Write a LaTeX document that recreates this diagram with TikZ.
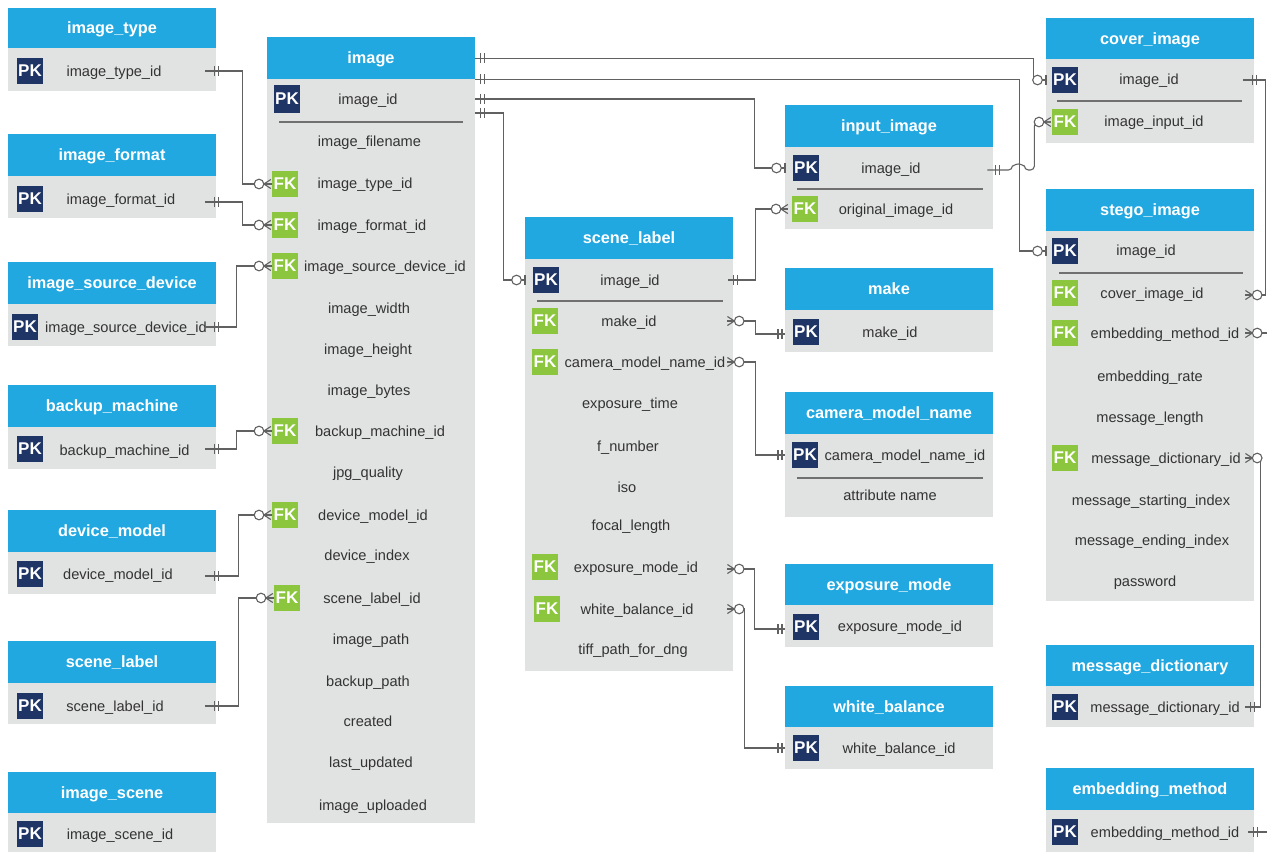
\documentclass[tikz,border=0pt]{standalone}
\usepackage{fontspec}
\setmainfont{Liberation Sans}

\definecolor{hdrblue}{HTML}{22A8E0}
\definecolor{bodygray}{HTML}{E1E2E2}
\definecolor{pknavy}{HTML}{1F3566}
\definecolor{fkgreen}{HTML}{8CC63F}
\definecolor{txt}{HTML}{333333}
\definecolor{wire}{HTML}{616161}
\definecolor{sepgray}{HTML}{707070}

\tikzset{
  hdrbox/.style={fill=hdrblue, draw=none, anchor=north west, inner sep=0pt},
  bdybox/.style={fill=bodygray, draw=none, anchor=north west, inner sep=0pt},
  ttl/.style={text=white, font=\bfseries\fontsize{16.3}{18}\selectfont, inner sep=0pt, anchor=mid, yshift=-3pt},
  fld/.style={text=txt, font=\fontsize{14.6}{16}\selectfont, inner sep=0pt, anchor=mid, yshift=-3pt},
  pk/.style={fill=pknavy, text=white, font=\bfseries\fontsize{17}{17}\selectfont,
             minimum width=26pt, minimum height=26pt, inner sep=0pt},
  fk/.style={pk, fill=fkgreen},
  sep/.style={draw=sepgray, line width=1.1pt},
  conn/.style={draw=wire, line width=1.1pt},
  % two bars: exactly one
  mand/.pic={\draw[conn] (0,-5) -- (0,5) (4,-5) -- (4,5);},
  % bar and ring: zero or one, line arriving from the left
  zone/.pic={\draw[conn] (0,-5) -- (0,5); \draw[conn, fill=white] (-8.5,0) circle[radius=4.8];},
  % crow's foot and ring: zero or many, line arriving from the left
  zmanyL/.pic={\draw[conn] (0,-4.5) -- (-7,0) -- (0,4.5) (0,0) -- (-7,0);
               \draw[conn, fill=white] (-11.8,0) circle[radius=4.8];},
  % crow's foot and ring: zero or many, line leaving to the right
  zmanyR/.pic={\draw[conn] (0,-4.5) -- (7,0) -- (0,4.5) (0,0) -- (7,0);
               \draw[conn, fill=white] (11.8,0) circle[radius=4.8];},
}

% table: name, left x, top y, header bottom y, bottom y, title
\newcommand\ertable[6]{%
  \node[hdrbox, minimum width=208pt, minimum height={#4-#3}] (#1-h) at (#2,#3) {};
  \node[bdybox, minimum width=208pt, minimum height={#5-#4}] (#1-b) at (#2,#4) {};
  \node[ttl] (#1-t) at ({#2+104},{(#3+#4)/2}) {#6};}

\begin{document}
\begin{tikzpicture}[x=1pt,y=-1pt]
\useasboundingbox[fill=white] (0,0) rectangle (1267,852);

% ---------------- left column ----------------
\ertable{itype}{8}{8}{48}{91}{image\_type}
\node[pk] (k-itype) at (30,71) {PK};
\node[fld] (f-itype) at (114,71) {image\_type\_id};

\ertable{iformat}{8}{134}{176}{218}{image\_format}
\node[pk] (k-iformat) at (30,199) {PK};
\node[fld] (f-iformat) at (121,199) {image\_format\_id};

\ertable{isrc}{8}{262}{304}{346}{image\_source\_device}
\node[pk] (k-isrc) at (25,327) {PK};
\node[fld] (f-isrc) at (126,327) {image\_source\_device\_id};

\ertable{backup}{8}{385}{427}{469}{backup\_machine}
\node[pk] (k-backup) at (30,449) {PK};
\node[fld] (f-backup) at (124.5,450) {backup\_machine\_id};

\ertable{dmodel}{8}{510}{552}{594}{device\_model}
\node[pk] (k-dmodel) at (30,574) {PK};
\node[fld] (f-dmodel) at (118,574) {device\_model\_id};

\ertable{slabelL}{8}{641}{683}{724}{scene\_label}
\node[pk] (k-slabelL) at (30,706) {PK};
\node[fld] (f-slabelL) at (115,706) {scene\_label\_id};

\ertable{iscene}{8}{772}{813}{852}{image\_scene}
\node[pk] (k-iscene) at (30,834) {PK};
\node[fld] (f-iscene) at (120,834) {image\_scene\_id};

% ---------------- image ----------------
\ertable{image}{267}{37}{79}{823}{image}
\node[pk, minimum height=28pt] (k-image) at (287,99) {PK};
\node[fld] (f-image-id) at (368,99) {image\_id};
\draw[sep] (279,122) -- (463,122);
\node[fld] (f-image-fn) at (369.5,141) {image\_filename};
\node[fk] (fk-itype) at (285,184) {FK};
\node[fld] (f-image-type) at (365,183) {image\_type\_id};
\node[fk] (fk-iformat) at (285,225) {FK};
\node[fld] (f-image-format) at (372,225) {image\_format\_id};
\node[fk] (fk-isrc) at (285,266) {FK};
\node[fld] (f-image-src) at (385,266) {image\_source\_device\_id};
\node[fld] (f-image-w) at (369,308) {image\_width};
\node[fld] (f-image-h) at (368,349) {image\_height};
\node[fld] (f-image-bytes) at (369,390) {image\_bytes};
\node[fk] (fk-backup) at (285,431) {FK};
\node[fld] (f-image-backup) at (380,431) {backup\_machine\_id};
\node[fld] (f-image-jpg) at (368,472) {jpg\_quality};
\node[fk] (fk-dmodel) at (285,515) {FK};
\node[fld] (f-image-dmodel) at (373,515) {device\_model\_id};
\node[fld] (f-image-dindex) at (367,555) {device\_index};
\node[fk] (fk-slabel) at (287,598) {FK};
\node[fld] (f-image-slabel) at (372,598) {scene\_label\_id};
\node[fld] (f-image-path) at (371,639) {image\_path};
\node[fld] (f-image-bpath) at (368,681) {backup\_path};
\node[fld] (f-image-created) at (368,721) {created};
\node[fld] (f-image-upd) at (371,762) {last\_updated};
\node[fld] (f-image-upl) at (373,805) {image\_uploaded};

% ---------------- scene_label ----------------
\ertable{scene}{525}{217}{259}{671}{scene\_label}
\node[pk] (k-scene) at (546,280) {PK};
\node[fld] (f-scene-id) at (630,280) {image\_id};
\draw[sep] (537,301) -- (723,301);
\node[fk] (fk-make) at (545,321) {FK};
\node[fld] (f-scene-make) at (629,321) {make\_id};
\node[fk] (fk-cam) at (545,362) {FK};
\node[fld] (f-scene-cam) at (645,362) {camera\_model\_name\_id};
\node[fld] (f-scene-et) at (630,403) {exposure\_time};
\node[fld] (f-scene-fn) at (628,446) {f\_number};
\node[fld] (f-scene-iso) at (627,487) {iso};
\node[fld] (f-scene-fl) at (631,525) {focal\_length};
\node[fk] (fk-expo) at (545,567) {FK};
\node[fld] (f-scene-expo) at (636,567) {exposure\_mode\_id};
\node[fk] (fk-wb) at (547,609) {FK};
\node[fld] (f-scene-wb) at (637,609) {white\_balance\_id};
\node[fld] (f-scene-tiff) at (633,649) {tiff\_path\_for\_dng};

% ---------------- lookup tables ----------------
\ertable{input}{785}{105}{147}{229}{input\_image}
\node[pk] (k-input) at (806,168) {PK};
\node[fld] (f-input-id) at (891,168) {image\_id};
\draw[sep] (797,189) -- (983,189);
\node[fk] (fk-orig) at (805,209) {FK};
\node[fld] (f-input-orig) at (896,209) {original\_image\_id};

\ertable{make}{785}{268}{310}{352}{make}
\node[pk] (k-make) at (806,332) {PK};
\node[fld] (f-make) at (890,332) {make\_id};

\ertable{cam}{785}{392}{434}{517}{camera\_model\_name}
\node[pk] (k-cam) at (805,455) {PK};
\node[fld] (f-cam) at (905,455) {camera\_model\_name\_id};
\draw[sep] (797,478) -- (983,478);
\node[fld] (f-cam-attr) at (890,495) {attribute name};

\ertable{expo}{785}{564}{605}{647}{exposure\_mode}
\node[pk] (k-expo) at (806,627) {PK};
\node[fld] (f-expo) at (900,626) {exposure\_mode\_id};

\ertable{wb}{785}{686}{727}{769}{white\_balance}
\node[pk] (k-wb) at (806,748) {PK};
\node[fld] (f-wb) at (899,748) {white\_balance\_id};

% ---------------- right column ----------------
\ertable{cover}{1046}{18}{59}{143}{cover\_image}
\node[pk] (k-cover) at (1065,80) {PK};
\node[fld] (f-cover-id) at (1149,79) {image\_id};
\draw[sep] (1057,101) -- (1242,101);
\node[fk] (fk-cinput) at (1065,122) {FK};
\node[fld] (f-cover-input) at (1154,121) {image\_input\_id};

\ertable{stego}{1046}{189}{231}{601}{stego\_image}
\node[pk] (k-stego) at (1065,251) {PK};
\node[fld] (f-stego-id) at (1146,250) {image\_id};
\draw[sep] (1059,273) -- (1243,273);
\node[fk] (fk-scover) at (1065,293) {FK};
\node[fld] (f-stego-cover) at (1152,293) {cover\_image\_id};
\node[fk] (fk-semb) at (1065,333) {FK};
\node[fld] (f-stego-emb) at (1165,333) {embedding\_method\_id};
\node[fld] (f-stego-rate) at (1150,376) {embedding\_rate};
\node[fld] (f-stego-len) at (1150,417) {message\_length};
\node[fk] (fk-sdict) at (1065,458) {FK};
\node[fld] (f-stego-dict) at (1166,458) {message\_dictionary\_id};
\node[fld] (f-stego-start) at (1151,500) {message\_starting\_index};
\node[fld] (f-stego-end) at (1152,540) {message\_ending\_index};
\node[fld] (f-stego-pw) at (1145,581) {password};

\ertable{dict}{1046}{645}{686}{727}{message\_dictionary}
\node[pk] (k-dict) at (1065,707) {PK};
\node[fld] (f-dict) at (1165,707) {message\_dictionary\_id};

\ertable{emb}{1046}{768}{810}{852}{embedding\_method}
\node[pk] (k-emb) at (1065,832) {PK};
\node[fld] (f-emb) at (1165,832) {embedding\_method\_id};

\coordinate (off-a) at (1267,333);
\coordinate (off-b) at (1267,832);

% ---------------- relationships ----------------
% lookups on the left into image
\draw[conn] ([xshift=-11pt]itype-b.east |- k-itype) -- ++(37,0) |- (fk-itype.west);
\draw[conn] ([xshift=-11pt,yshift=-3pt]iformat-b.east |- k-iformat) -- ++(37,0) |- (fk-iformat.west);
\draw[conn] ([xshift=-11pt]isrc-b.east |- k-isrc) -- ++(31,0) |- (fk-isrc.west);
\draw[conn] ([xshift=-11pt]backup-b.east |- k-backup) -- ++(31,0) |- (fk-backup.west);
\draw[conn] ([xshift=-11pt,yshift=-2pt]dmodel-b.east |- k-dmodel) -- ++(33,0) |- (fk-dmodel.west);
\draw[conn] ([xshift=-11pt]slabelL-b.east |- k-slabelL) -- ++(33,0) |- (fk-slabel.west);
\foreach \k in {itype,isrc,backup,slabelL}
  \pic at ([xshift=-2pt]\k-b.east |- k-\k) {mand};
\pic at ([xshift=-2pt,yshift=-3pt]iformat-b.east |- k-iformat) {mand};
\pic at ([xshift=-2pt,yshift=-2pt]dmodel-b.east |- k-dmodel) {mand};
\foreach \f in {itype,iformat,isrc,backup,dmodel,slabel}
  \pic at ([xshift=-1pt]fk-\f.west) {zmanyL};

% image.image_id to its subtypes
\draw[conn] (image-h.east) -- ++(558,0) |- (cover-b.west |- k-cover);
\draw[conn] (image-h.south east) -- ++(544,0) |- (stego-b.west |- k-stego);
\draw[conn] (image-b.east |- k-image) -- ++(279,0) |- (input-b.west |- k-input);
\draw[conn] ([yshift=-14pt]image-b.east |- k-image) -- ++(28,0) |- (scene-b.west |- k-scene);
\pic at ([xshift=5pt]image-h.east) {mand};
\pic at ([xshift=5pt]image-h.south east) {mand};
\pic at ([xshift=5pt]image-b.east |- k-image) {mand};
\pic at ([yshift=-14pt,xshift=5pt]image-b.east |- k-image) {mand};
\pic at (cover-b.west |- k-cover) {zone};
\pic at (stego-b.west |- k-stego) {zone};
\pic at (input-b.west |- k-input) {zone};
\pic at (scene-b.west |- k-scene) {zone};

% input_image to cover_image, hopping over the stego line
\draw[conn, rounded corners=4pt] ([xshift=-6pt,yshift=-2pt]input-b.east |- k-input) -- ++(25,0)
  arc[start angle=180, end angle=360, radius=6] -- ++(10,0) |- ([xshift=-1pt]fk-cinput.west);
\pic at ([xshift=2pt,yshift=-2pt]input-b.east |- k-input) {mand};
\pic at ([xshift=-1pt]fk-cinput.west) {zmanyL};

% scene_label to input_image and its lookups
\draw[conn] ([xshift=-5pt]scene-b.east |- k-scene) -- ++(27,0) |- ([xshift=-4pt]fk-orig.west);
\pic at (scene-b.east |- k-scene) {mand};
\pic at ([xshift=-4pt]fk-orig.west) {zmanyL};
\draw[conn] ([xshift=-6pt]scene-b.east |- fk-make) -- ++(28,0) |- ([yshift=-2pt]make-b.west |- k-make);
\draw[conn] ([xshift=-6pt]scene-b.east |- fk-cam) -- ++(28,0) |- (cam-b.west |- k-cam);
\draw[conn] ([xshift=-6pt,yshift=-2pt]scene-b.east |- fk-expo) -- ++(27,0) |- ([yshift=-2pt]expo-b.west |- k-expo);
\draw[conn] ([xshift=-6pt]scene-b.east |- fk-wb) -- ++(17,0) |- (wb-b.west |- k-wb);
\foreach \f in {make,cam,wb}
  \pic at ([xshift=-6pt]scene-b.east |- fk-\f) {zmanyR};
\pic at ([xshift=-6pt,yshift=-2pt]scene-b.east |- fk-expo) {zmanyR};
\foreach \k in {cam,wb}
  \pic at ([xshift=-7pt]\k-b.west |- k-\k) {mand};
\pic at ([xshift=-7pt,yshift=-2pt]make-b.west |- k-make) {mand};
\pic at ([xshift=-7pt,yshift=-2pt]expo-b.west |- k-expo) {mand};

% cover_image and lookups into stego_image
\draw[conn] ([xshift=-11pt]cover-b.east |- k-cover) -- ++(22,0) |- ([xshift=-9pt,yshift=-2pt]stego-b.east |- fk-scover);
\pic at ([xshift=-2pt]cover-b.east |- k-cover) {mand};
\pic at ([xshift=-9pt,yshift=-2pt]stego-b.east |- fk-scover) {zmanyR};
\draw[conn] ([xshift=-9pt]stego-b.east |- fk-semb) -- (off-a);
\pic at ([xshift=-9pt]stego-b.east |- fk-semb) {zmanyR};
\draw[conn] ([xshift=-9pt]stego-b.east |- fk-sdict) -- ++(15,0) |- ([xshift=-9pt]dict-b.east |- k-dict);
\pic at ([xshift=-9pt]stego-b.east |- fk-sdict) {zmanyR};
\pic at ([xshift=-4pt]dict-b.east |- k-dict) {mand};
\draw[conn] ([xshift=-6pt]emb-b.east |- k-emb) -- (off-b);
\pic at ([xshift=-1pt]emb-b.east |- k-emb) {mand};
\end{tikzpicture}
\end{document}
